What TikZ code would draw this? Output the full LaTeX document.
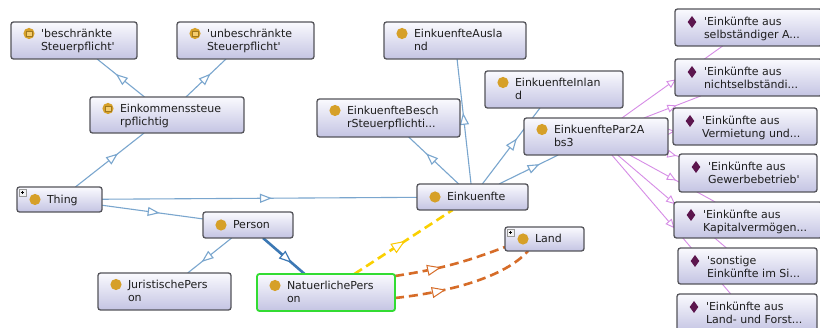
\documentclass[tikz,border=0pt]{standalone}
\usepackage{fontspec}
\setmainfont{DejaVu Sans}[Ligatures=TeXOff]
\usetikzlibrary{arrows.meta,decorations.markings}
\pgfdeclarelayer{bglayer}
\pgfdeclarelayer{edgelayer}
\pgfsetlayers{bglayer,edgelayer,main}
\definecolor{boxtop}{RGB}{250,250,254}
\definecolor{boxbot}{RGB}{196,196,227}
\definecolor{boxborder}{RGB}{84,84,90}
\definecolor{iconcol}{RGB}{214,160,40}
\definecolor{iconin}{RGB}{244,204,110}
\definecolor{diamcol}{RGB}{92,22,78}
\definecolor{edgeblue}{RGB}{122,166,206}
\definecolor{selblue}{RGB}{60,120,180}
\definecolor{purp}{RGB}{214,140,230}
\definecolor{yel}{RGB}{250,208,0}
\definecolor{orc}{RGB}{214,108,40}
\definecolor{selgreen}{RGB}{50,220,50}
\definecolor{txtcol}{RGB}{30,30,30}
\newcommand\lbfont{\fontsize{11}{13}\selectfont}
\newcommand\ubox[6][]{\node[box,#1,anchor=north west,minimum width={#5-#3},minimum height={#6-#4}] (#2) at (#3,#4) {};}
\newcommand\twolines[3]{%
  \node[lbl] (#1-a) at ([xshift=30pt,yshift=-15.7pt]#1.north west) {#2};
  \node[lbl] (#1-b) at ([xshift=30pt,yshift=-29pt]#1.north west) {#3};}
\newcommand\indlines[3]{%
  \node[lbl] (#1-a) at ([xshift=29pt,yshift=-16.5pt]#1.north west) {#2};
  \node[lbl] (#1-b) at ([xshift=29pt,yshift=-30pt]#1.north west) {#3};}
\newcommand\oneline[2]{\node[lbl] (#1-a) at ([xshift=30pt,yshift=-4pt]#1.west) {#2};}
\newcommand\clsicon[1]{\fill[iconcol] ([xshift=18pt,yshift=-11.5pt]#1.north west) circle (5.6pt);}
\newcommand\clsiconc[1]{\fill[iconcol] ([xshift=18pt]#1.west) circle (5.6pt);}
\newcommand\eqicon[1]{\fill[iconcol] ([xshift=18pt,yshift=-11.5pt]#1.north west) circle (5.6pt);
  \filldraw[fill=iconin, draw=iconcol!75!black, line width=0.4pt] ([xshift=15.3pt,yshift=-8.8pt]#1.north west) rectangle ++(5.4pt,-5.4pt);}
\newcommand\indicon[1]{\fill[diamcol] ([xshift=17pt,yshift=-7pt]#1.north west) -- ++(4.3pt,-6pt) -- ++(-4.3pt,-6pt) -- ++(-4.3pt,6pt) -- cycle;}
\newcommand\plusmark[1]{\draw[draw=gray!80, fill=gray!10, line width=0.5pt] ([xshift=2pt,yshift=-2pt]#1.north west) rectangle ++(7pt,-7pt);
  \draw[black, line width=0.7pt] ([xshift=5.5pt,yshift=-3.8pt]#1.north west) -- ++(0,-3.4pt) ([xshift=3.8pt,yshift=-5.5pt]#1.north west) -- ++(3.4pt,0);}
\newcommand\linkedge[4]{\draw[#1] (#3) -- (#4); \path[#2] (#3.center) -- (#4.center);}
\tikzset{
  box/.style={draw=boxborder, line width=1.3pt, rounded corners=2.5pt, top color=boxtop, bottom color=boxbot, inner sep=0pt, outer sep=0pt},
  selbox/.style={draw=selgreen, line width=1.8pt},
  lbl/.style={anchor=base west, inner sep=0pt, outer sep=0pt, font=\lbfont, text=txtcol},
  bl/.style={draw=edgeblue, line width=1.1pt},
  sel/.style={draw=selblue, line width=2.6pt},
  pu/.style={draw=purp, line width=0.9pt},
  ye/.style={draw=yel, line width=2.6pt, dash pattern=on 9pt off 5pt},
  orl/.style={draw=orc, line width=2.6pt, dash pattern=on 9pt off 5pt},
  trimark/.style n args={3}{postaction=decorate, decoration={markings, mark=at position #1 with {\arrow[xshift=#2/2]{Triangle[length=#2,width=#3,fill=white]}}}},
  bltri/.style={color=edgeblue, line width=1.1pt, trimark={0.5}{12pt}{9pt}},
  seltri/.style={color=selblue, line width=1.2pt, trimark={0.5}{13pt}{10pt}},
  putri/.style={color=purp, line width=0.9pt, trimark={0.5}{9pt}{8pt}},
  yetri/.style={color=yel!90!orange, line width=1pt, trimark={0.5}{14pt}{11pt}},
  ortri/.style={color=orc, line width=1pt, trimark={#1}{14pt}{11pt}},
}
\begin{document}
\begin{tikzpicture}[x=1pt,y=-1pt]
\path[use as bounding box] (0,0) rectangle (820,328);
\begin{pgfonlayer}{bglayer}
\fill[white] (0,0) rectangle (820,328);
\end{pgfonlayer}
% classes
\ubox{bS}{11}{22}{137}{59} \eqicon{bS} \twolines{bS}{'beschränkte}{Steuerpflicht'}
\ubox{uS}{177}{22}{314}{59} \eqicon{uS} \twolines{uS}{'unbeschränkte}{Steuerpflicht'}
\ubox{ESt}{90}{97}{244}{133} \eqicon{ESt} \twolines{ESt}{Einkommenssteue}{rpflichtig}
\ubox{EA}{384}{22}{526}{59} \clsicon{EA} \twolines{EA}{EinkuenfteAusla}{nd}
\ubox{EI}{485}{71}{623}{108} \clsicon{EI} \twolines{EI}{EinkuenfteInlan}{d}
\ubox{EB}{317}{99}{460}{137} \clsicon{EB} \twolines{EB}{EinkuenfteBesch}{rSteuerpflichti...}
\ubox{EP}{524}{118}{668}{155} \clsicon{EP} \twolines{EP}{EinkuenftePar2A}{bs3}
\ubox{Ek}{417}{184}{528}{210} \clsiconc{Ek} \oneline{Ek}{Einkuenfte}
\ubox{Land}{505}{227}{584}{251} \clsiconc{Land} \oneline{Land}{Land} \plusmark{Land}
\ubox{Thing}{17}{187}{102}{212} \clsiconc{Thing} \oneline{Thing}{Thing} \plusmark{Thing}
\ubox{Person}{203}{212}{293}{238} \clsiconc{Person} \oneline{Person}{Person}
\ubox{JP}{98}{273}{231}{310} \clsicon{JP} \twolines{JP}{JuristischePers}{on}
\ubox[selbox]{NP}{257}{274}{395}{311} \clsicon{NP} \twolines{NP}{NatuerlichePers}{on}
% individuals
\ubox{Ia}{675}{9}{822}{46} \indicon{Ia} \indlines{Ia}{'Einkünfte aus}{selbständiger A...}
\ubox{Ib}{675}{59}{822}{96} \indicon{Ib} \indlines{Ib}{'Einkünfte aus}{nichtselbständi...}
\ubox{Ic}{673}{108}{817}{145} \indicon{Ic} \indlines{Ic}{'Einkünfte aus}{Vermietung und...}
\ubox{Id}{679}{154}{817}{192} \indicon{Id} \indlines{Id}{'Einkünfte aus}{Gewerbebetrieb'}
\ubox{Ie}{674}{202}{822}{238} \indicon{Ie} \indlines{Ie}{'Einkünfte aus}{Kapitalvermögen...}
\ubox{If}{678}{248}{817}{284} \indicon{If} \indlines{If}{'sonstige}{Einkünfte im Si...}
\ubox{Ig}{677}{294}{817}{332} \indicon{Ig} \indlines{Ig}{'Einkünfte aus}{Land- und Forst...}
\begin{pgfonlayer}{edgelayer}
\linkedge{bl}{bltri}{ESt}{bS}
\linkedge{bl}{bltri}{ESt}{uS}
\linkedge{bl}{bltri}{Thing}{ESt}
\linkedge{bl}{bltri}{Thing}{Ek}
\linkedge{bl}{bltri}{Thing}{Person}
\linkedge{bl}{bltri}{Person}{JP}
\linkedge{sel}{seltri}{Person}{NP}
\linkedge{bl}{bltri}{Ek}{EA}
\linkedge{bl}{bltri}{Ek}{EB}
\linkedge{bl}{bltri}{Ek}{EI}
\linkedge{bl}{bltri}{Ek}{EP}
\linkedge{pu}{putri}{EP}{Ia}
\linkedge{pu}{putri}{EP}{Ib}
\linkedge{pu}{putri}{EP}{Ic}
\linkedge{pu}{putri}{EP}{Id}
\linkedge{pu}{putri}{EP}{Ie}
\linkedge{pu}{putri}{EP}{If}
\linkedge{pu}{putri}{EP}{Ig}
\linkedge{ye}{yetri}{NP}{Ek}
\draw[orl] ([yshift=-2pt]NP.north east) to[bend right=6] ([yshift=4pt]Land.south west);
\path[ortri=0.35] ([yshift=-2pt]NP.north east) to[bend right=6] ([yshift=4pt]Land.south west);
\draw[orl] ([yshift=-5.5pt]NP.east) .. controls +(55,-6) and +(-23,26) .. ([xshift=-16.5pt]Land.south);
\path[ortri=0.31] ([yshift=-5.5pt]NP.east) .. controls +(55,-6) and +(-23,26) .. ([xshift=-16.5pt]Land.south);
\end{pgfonlayer}
\end{tikzpicture}
\end{document}
